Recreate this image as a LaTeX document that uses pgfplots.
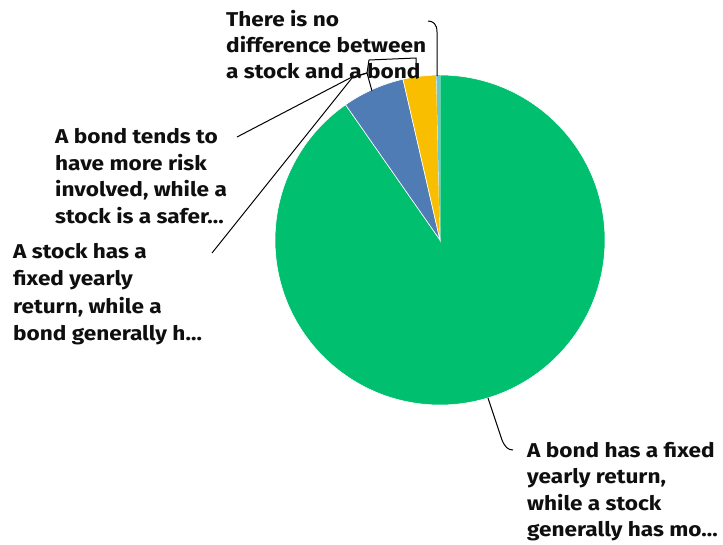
\documentclass[border=0pt]{standalone}
\usepackage{fontspec}
\setmainfont{Fira Sans}[FakeStretch=1.13]
\usepackage{pgfplots}
\pgfplotsset{compat=1.18}
\definecolor{cgreen}{RGB}{0,191,111}
\definecolor{cblue}{RGB}{80,124,182}
\definecolor{cyellow}{RGB}{249,190,0}
\definecolor{cteal}{RGB}{107,200,205}
\definecolor{ctext}{RGB}{15,15,15}
% shares (percent) of the four answers
\def\vA{90.3}  % A bond has a fixed yearly return ...
\def\vB{6.1}   % A stock has a fixed yearly return ...
\def\vC{3.25}  % A bond tends to have more risk ...
\def\vD{0.35}  % There is no difference ...
\pgfmathsetmacro\aA{90-3.6*\vA}
\pgfmathsetmacro\aB{\aA-3.6*\vB}
\pgfmathsetmacro\aC{\aB-3.6*\vC}
\pgfmathsetmacro\aD{\aC-3.6*\vD}
\begin{document}
\begin{tikzpicture}
\begin{axis}[
  width=723pt, height=544pt, scale only axis,
  xmin=0, xmax=723, ymin=0, ymax=544, y dir=reverse,
  hide axis, clip=false]
\path (axis cs:0,0) rectangle (axis cs:723,544);
\fill[cgreen, draw=white, line width=0.6pt] (axis cs:440,240) -- ++(90:165pt) arc[start angle=90, end angle=\aA, radius=165pt] -- cycle;
\fill[cblue, draw=white, line width=0.6pt] (axis cs:440,240) -- ++(\aA:165pt) arc[start angle=\aA, end angle=\aB, radius=165pt] -- cycle;
\fill[cyellow, draw=white, line width=0.6pt] (axis cs:440,240) -- ++(\aB:165pt) arc[start angle=\aB, end angle=\aC, radius=165pt] -- cycle;
\fill[cteal] (axis cs:440,240) -- ++(\aC:165pt) arc[start angle=\aC, end angle=\aD, radius=165pt] -- cycle;
% leader lines
\draw[black, line width=1pt] (axis cs:488,398) -- (axis cs:502,440) .. controls (axis cs:505,447) and (axis cs:508,450) .. (axis cs:513,450);
\draw[black, line width=1pt] (axis cs:437,76) -- (axis cs:437,32) .. controls (axis cs:437,24) and (axis cs:433,21) .. (axis cs:428,21);
\draw[black, line width=1pt] (axis cs:417,79) -- (axis cs:416,58) -- (axis cs:369,60) -- (axis cs:367,73) -- (axis cs:352,77) -- (axis cs:237,137);
\draw[black, line width=1pt] (axis cs:372,91) -- (axis cs:367,73) -- (axis cs:352,78) -- (axis cs:212,253);
% labels
\begin{scope}[every node/.style={anchor=base west, inner sep=0pt, text=ctext, font=\fontsize{20}{26}\selectfont\bfseries}]
\node at (axis cs:226,26) {There is no};
\node at (axis cs:226,52) {difference between};
\node at (axis cs:226,78) {a stock and a bond};
\node at (axis cs:55,143) {A bond tends to};
\node at (axis cs:55,170) {have more risk};
\node at (axis cs:55,196) {involved, while a};
\node at (axis cs:55,223) {stock is a safer\dots};
\node at (axis cs:13,258) {A stock has a};
\node at (axis cs:13,285) {fixed yearly};
\node at (axis cs:13,313) {return, while a};
\node at (axis cs:13,340) {bond generally h\dots};
\node at (axis cs:527,457) {A bond has a fixed};
\node at (axis cs:527,483) {yearly return,};
\node at (axis cs:527,510) {while a stock};
\node at (axis cs:527,536) {generally has mo\dots};
\end{scope}
\end{axis}
\end{tikzpicture}
\end{document}
